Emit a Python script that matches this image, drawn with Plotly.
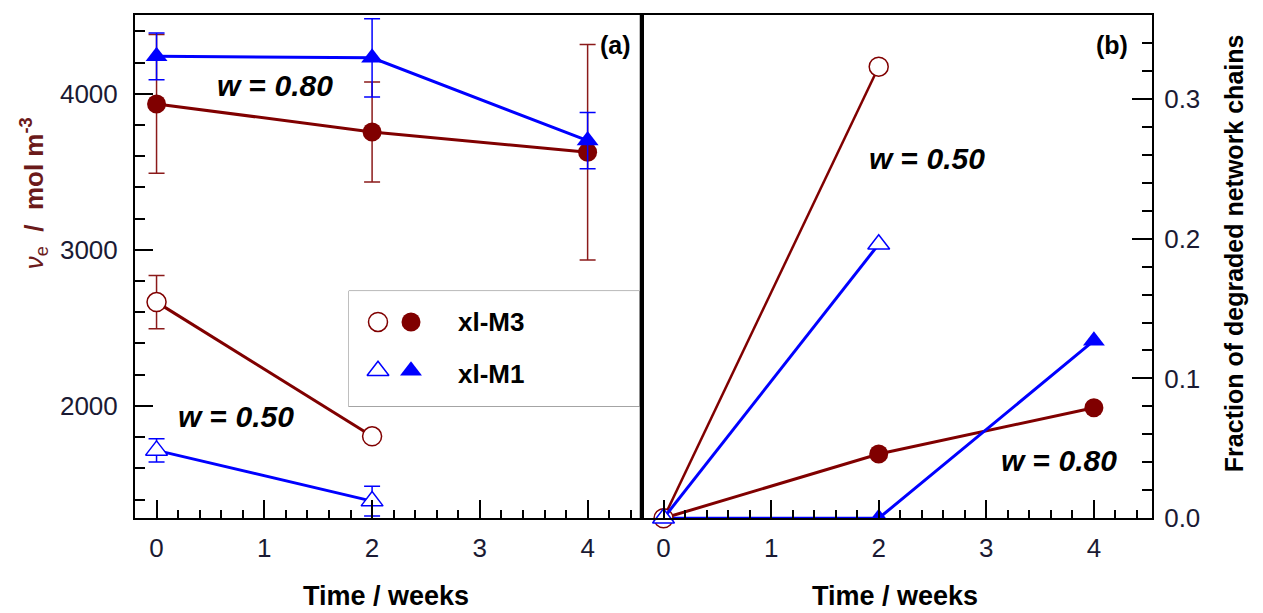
import plotly.graph_objects as go

# ---------------- data ----------------
weeks3 = [0, 2, 4]
weeks2 = [0, 2]

# panel (a): crosslink density, w = 0.80 (filled symbols)
ve_M3_080 = [3935, 3755, 3625]
ve_M3_080_err = [445, 320, 690]
ve_M1_080 = [4240, 4230, 3700]
ve_M1_080_err = [150, 250, 180]

# panel (a): w = 0.50 (open symbols)
ve_M3_050 = [2665, 1805]
ve_M3_050_err = [170, 0]
ve_M1_050 = [1715, 1390]
ve_M1_050_err = [75, 95]

# panel (b): fraction of degraded network chains
frac_M3_050 = [0.0, 0.323]
frac_M1_050 = [0.0, 0.196]
frac_M3_080 = [0.0, 0.046, 0.079]
frac_M1_080 = [0.0, 0.0, 0.127]

legend_names = ["xl-M3", "xl-M1"]

RED = "#800000"
BLUE = "#0000ff"
TXT = "#1a1a33"
W, H = 1263, 613
HV = 600.0  # effective vertical pixel scale observed in the rendering

def px(x):
    return x / W

def py(y):
    return 1 - y / HV

fig = go.Figure()

def eb(arr, color):
    return dict(type="data", array=arr, visible=True, color=color, thickness=1.5, width=8)

# ---- panel (a) ----
fig.add_trace(go.Scatter(x=weeks3, y=ve_M3_080, mode="lines+markers", xaxis="x", yaxis="y",
                         line=dict(color=RED, width=3), error_y=eb(ve_M3_080_err, "#8b1a1a"),
                         marker=dict(symbol="circle", size=19, color=RED)))
fig.add_trace(go.Scatter(x=weeks3, y=ve_M1_080, mode="lines+markers", xaxis="x", yaxis="y",
                         line=dict(color=BLUE, width=3), error_y=eb(ve_M1_080_err, BLUE),
                         marker=dict(symbol="triangle-up", size=19, color=BLUE)))
fig.add_trace(go.Scatter(x=weeks2, y=ve_M3_050, mode="lines+markers", xaxis="x", yaxis="y",
                         line=dict(color=RED, width=3), error_y=eb(ve_M3_050_err, "#8b1a1a"),
                         marker=dict(symbol="circle", size=19, color="white", line=dict(color=RED, width=1.5))))
fig.add_trace(go.Scatter(x=weeks2, y=ve_M1_050, mode="lines+markers", xaxis="x", yaxis="y",
                         line=dict(color=BLUE, width=3), error_y=eb(ve_M1_050_err, BLUE),
                         marker=dict(symbol="triangle-up", size=19, color="white", line=dict(color=BLUE, width=1.5))))

# ---- panel (b) ----
fig.add_trace(go.Scatter(x=weeks3, y=frac_M3_080, mode="lines+markers", xaxis="x2", yaxis="y2",
                         line=dict(color=RED, width=3), cliponaxis=True,
                         marker=dict(symbol="circle", size=19, color=RED)))
fig.add_trace(go.Scatter(x=weeks3, y=frac_M1_080, mode="lines+markers", xaxis="x2", yaxis="y2",
                         line=dict(color=BLUE, width=3), cliponaxis=True,
                         marker=dict(symbol="triangle-up", size=19, color=BLUE)))
fig.add_trace(go.Scatter(x=weeks2, y=frac_M3_050, mode="lines+markers", xaxis="x2", yaxis="y2",
                         line=dict(color=RED, width=2.5), cliponaxis=False,
                         marker=dict(symbol="circle", size=19, color="white", line=dict(color=RED, width=1.5))))
fig.add_trace(go.Scatter(x=weeks2, y=frac_M1_050, mode="lines+markers", xaxis="x2", yaxis="y2",
                         line=dict(color=BLUE, width=3), cliponaxis=False,
                         marker=dict(symbol="triangle-up", size=19, color="white", line=dict(color=BLUE, width=1.5))))

# ---- legend symbols (own small axis) ----
leg_x = [378, 411]
leg_y = [323, 372]
fig.add_trace(go.Scatter(x=[leg_x[0]], y=[leg_y[0]], mode="markers", xaxis="x3", yaxis="y3",
                         marker=dict(symbol="circle", size=19, color="white", line=dict(color=RED, width=1.5))))
fig.add_trace(go.Scatter(x=[leg_x[1]], y=[leg_y[0]], mode="markers", xaxis="x3", yaxis="y3",
                         marker=dict(symbol="circle", size=19, color=RED)))
fig.add_trace(go.Scatter(x=[leg_x[0]], y=[leg_y[1]], mode="markers", xaxis="x3", yaxis="y3",
                         marker=dict(symbol="triangle-up", size=19, color="white", line=dict(color=BLUE, width=1.5))))
fig.add_trace(go.Scatter(x=[leg_x[1]], y=[leg_y[1]], mode="markers", xaxis="x3", yaxis="y3",
                         marker=dict(symbol="triangle-up", size=19, color=BLUE)))

common = dict(showline=True, linewidth=2, linecolor="black", mirror=True, ticks="inside",
              tickwidth=2, tickcolor="black", showgrid=False, zeroline=False,
              tickfont=dict(size=26, color=TXT, family="Liberation Sans, Arial"))

ydom = [py(520), py(15)]
fig.update_layout(
    width=W, height=H, margin=dict(l=0, r=0, t=0, b=0),
    paper_bgcolor="white", plot_bgcolor="white", showlegend=False,
    font=dict(family="Liberation Sans, Arial", size=24, color=TXT),
    xaxis=dict(domain=[px(135), px(641.5)], range=[-0.2, 4.5], anchor="y", dtick=1, tick0=0, ticklen=18,
               ticklabelstandoff=6,
               minor=dict(ticks="inside", ticklen=8, tickwidth=1.5, dtick=0.2, tick0=0, tickcolor="black"),
               **common),
    yaxis=dict(domain=ydom, range=[1280, 4505], anchor="x", dtick=1000, tick0=0, ticklen=18,
               ticklabelstandoff=10,
               minor=dict(ticks="inside", ticklen=10, tickwidth=1.5, dtick=200, tick0=0, tickcolor="black"),
               **common),
    xaxis2=dict(domain=[px(642), px(1152)], range=[-0.2, 4.54], anchor="y2", dtick=1, tick0=0, ticklen=18,
                ticklabelstandoff=6,
                minor=dict(ticks="inside", ticklen=8, tickwidth=1.5, dtick=0.2, tick0=0, tickcolor="black"),
                **common),
    yaxis2=dict(domain=ydom, range=[0, 0.36], anchor="x2", side="right", dtick=0.1, tick0=0, tickformat=".1f",
                ticklen=20, ticklabelstandoff=5,
                minor=dict(ticks="inside", ticklen=10, tickwidth=1.5, dtick=0.02, tick0=0, tickcolor="black"),
                **common),
    xaxis3=dict(domain=[px(349), px(639)], range=[349, 639], anchor="y3", visible=False, fixedrange=True),
    yaxis3=dict(domain=[py(408), py(292)], range=[408, 292], anchor="x3", visible=False, fixedrange=True),
)

# legend box and panel divider
fig.add_shape(type="rect", xref="paper", yref="paper", x0=px(349.5), x1=px(638.5), y0=py(407.5), y1=py(292.5),
              line=dict(color="black", width=1.5), fillcolor="rgba(0,0,0,0)", layer="below")
fig.add_shape(type="line", xref="paper", yref="paper", x0=px(641.5), x1=px(641.5), y0=py(521), y1=py(14),
              line=dict(color="black", width=3.5))

def ann(x, y, text, size, color="black", xanchor="center", angle=0):
    fig.add_annotation(x=px(x), y=py(y), xref="paper", yref="paper", text=text, showarrow=False,
                       xanchor=xanchor, yanchor="middle", textangle=angle,
                       font=dict(size=size, color=color, family="Liberation Sans, Arial"))

ann(456, 323, "<b>" + legend_names[0] + "</b>", 26, xanchor="left")
ann(456, 375, "<b>" + legend_names[1] + "</b>", 26, xanchor="left")

ann(275, 86, "<b><i>w</i> = <i>0.80</i></b>", 30)
ann(236, 418, "<b><i>w</i> = <i>0.50</i></b>", 30)
ann(927, 159, "<b><i>w</i> = <i>0.50</i></b>", 30)
ann(1059, 462, "<b><i>w</i> = <i>0.80</i></b>", 30)
ann(615, 45, "<b>(a)</b>", 25)
ann(1112, 45, "<b>(b)</b>", 25)

ann(386, 598, "<b>Time / weeks</b>", 27)
ann(895, 598, "<b>Time / weeks</b>", 27)
ann(34, 194, "<i>ν</i><sub>e</sub>  <b>/  mol m<sup>-3</sup></b>", 26, color="#6b1a1a", angle=-90)
ann(1234, 254, "<b>Fraction of degraded network chains</b>", 25, angle=-90)

fig.write_html("out.html")
